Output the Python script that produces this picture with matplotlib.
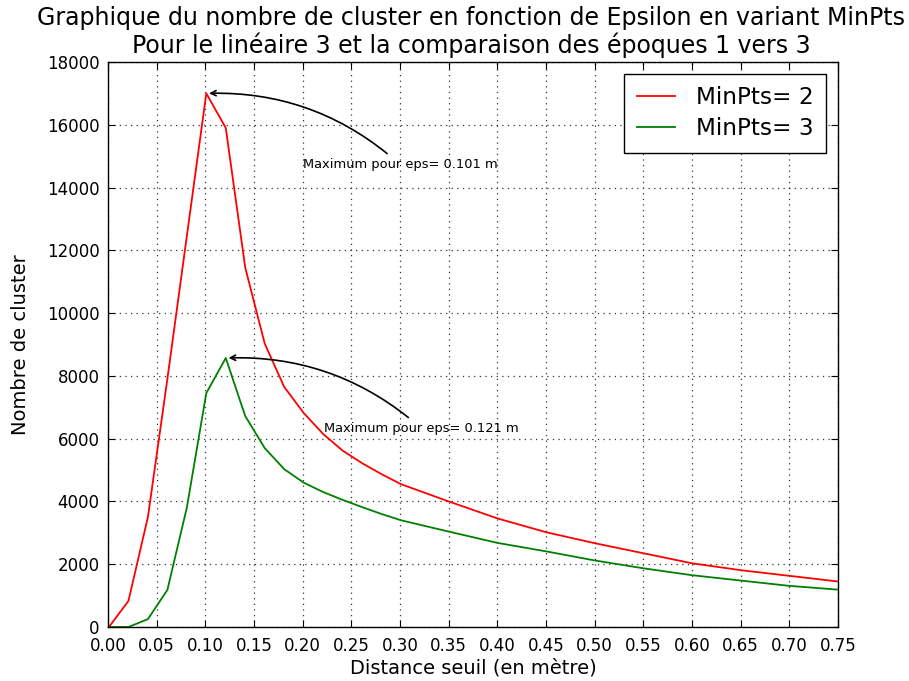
import matplotlib
matplotlib.use("Agg")
import matplotlib.pyplot as plt

# Data
eps = [0.001, 0.021, 0.041, 0.061, 0.081, 0.101, 0.121, 0.141, 0.161, 0.181,
       0.201, 0.221, 0.241, 0.261, 0.281, 0.301, 0.35, 0.40, 0.45, 0.50,
       0.55, 0.60, 0.65, 0.70, 0.75]
minpts2 = [0, 830, 3500, 7900, 12450, 17000, 15900, 11450, 9030, 7650,
           6820, 6150, 5620, 5220, 4870, 4550, 4000, 3460, 3020, 2670,
           2350, 2030, 1810, 1630, 1450]
minpts3 = [0, 0, 250, 1180, 3800, 7450, 8570, 6720, 5700, 5030,
           4600, 4300, 4050, 3820, 3600, 3400, 3040, 2680, 2410, 2120,
           1870, 1650, 1480, 1310, 1190]
labels = ["MinPts= 2", "MinPts= 3"]
title_lines = ["Graphique du nombre de cluster en fonction de Epsilon en variant MinPts",
               "Pour le linéaire 3 et la comparaison des époques 1 vers 3"]
ann1 = "Maximum pour eps= 0.101 m"
ann2 = "Maximum pour eps= 0.121 m"

plt.rcParams['font.family'] = ['DejaVu Sans']

fig = plt.figure(figsize=(9.09, 6.81), dpi=100, facecolor='white')
ax = fig.add_axes([0.1188, 0.0793, 0.8031, 0.8297])

ax.plot(eps, minpts2, color=(1, 0, 0), lw=1.3, label=labels[0])
ax.plot(eps, minpts3, color=(0, 0.5, 0), lw=1.3, label=labels[1])

ax.set_xlim(0, 0.75)
ax.set_ylim(0, 18000)
ax.set_xticks([i * 0.05 for i in range(16)])
ax.set_xticklabels(["%.2f" % (i * 0.05) for i in range(16)])
ax.set_yticks(range(0, 18001, 2000))

ax.grid(True, color='#333333', linestyle=(0, (1, 3.5)), linewidth=0.9)
ax.tick_params(direction='in', top=True, right=True, length=5, width=0.8,
               labelsize=12, pad=7)
ax.tick_params(axis='y', pad=6)
for s in ax.spines.values():
    s.set_linewidth(1.0)

# two-line title, centred over the axes
xc = 0.1188 + 0.8031 / 2 - 0.002
fig.text(xc, 1 - 25 / 681, title_lines[0], fontsize=17, ha='center', va='baseline')
fig.text(xc, 1 - 53.5 / 681, title_lines[1], fontsize=17, ha='center', va='baseline')

ax.set_xlabel("Distance seuil (en mètre)", fontsize=14, labelpad=3)
ax.set_ylabel("Nombre de cluster", fontsize=14, labelpad=12)

ax.annotate(ann1, xy=(0.101, 17000), xytext=(0.2, 14620), fontsize=9.4,
            arrowprops=dict(arrowstyle='->', connectionstyle='arc3,rad=0.2',
                            color='k', lw=1.2))
ax.annotate(ann2, xy=(0.121, 8570), xytext=(0.222, 6210), fontsize=9.4,
            arrowprops=dict(arrowstyle='->', connectionstyle='arc3,rad=0.2',
                            color='k', lw=1.2))

leg = ax.legend(loc='upper right', fontsize=16.7, fancybox=False,
                framealpha=1, edgecolor='k', borderpad=0.55,
                handlelength=1.65, handletextpad=0.9, labelspacing=0.35,
                borderaxespad=0.5)
leg.get_frame().set_linewidth(1.0)

fig.savefig("out.png", dpi=100, facecolor='white')
